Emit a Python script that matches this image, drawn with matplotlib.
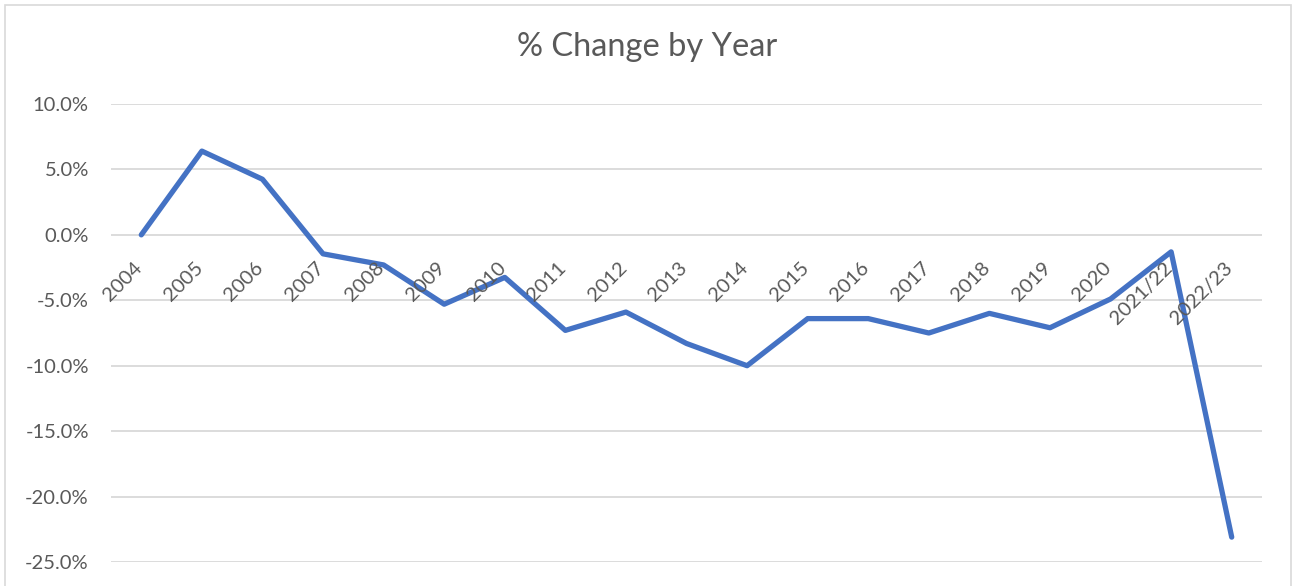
import matplotlib.pyplot as plt
from matplotlib.patches import Rectangle
from matplotlib.ticker import FuncFormatter, MultipleLocator

# data
years = ["2004", "2005", "2006", "2007", "2008", "2009", "2010", "2011", "2012",
         "2013", "2014", "2015", "2016", "2017", "2018", "2019", "2020",
         "2021/22", "2022/23"]
pct_change = [0.0, 6.4, 4.25, -1.45, -2.3, -5.3, -3.25, -7.3, -5.9,
              -8.3, -10.0, -6.4, -6.4, -7.5, -6.0, -7.1, -4.9,
              -1.3, -23.1]

txt_col = "#595959"
grid_col = "#D9D9D9"
line_col = "#4472C4"

plt.rcParams['font.family'] = ['Lato', 'DejaVu Sans']

W, H = 1293, 586
fig = plt.figure(figsize=(W / 100, H / 100), dpi=100)

# chart area border
fig.patches.append(Rectangle((5 / W, -0.05), (1291 - 5) / W, 1.05 - 5 / H,
                             transform=fig.transFigure, fill=False,
                             edgecolor=grid_col, linewidth=1.2))

ax = fig.add_axes([111 / W, (H - 562) / H, (1262 - 111) / W, (562 - 104) / H])

x = list(range(len(years)))
ax.plot(x, pct_change, color=line_col, linewidth=3.8,
        solid_capstyle='round', solid_joinstyle='round', zorder=3)

ax.set_xlim(-0.5, len(years) - 0.5)
ax.set_ylim(-25, 10)
ax.yaxis.set_major_locator(MultipleLocator(5))
ax.yaxis.set_major_formatter(FuncFormatter(lambda v, p: "{:.1f}%".format(v)))
ax.grid(axis='y', color=grid_col, linewidth=1.3)
ax.set_axisbelow(True)
for s in ax.spines.values():
    s.set_visible(False)
ax.tick_params(axis='y', length=0, pad=16, labelsize=14.5, labelcolor=txt_col)
ax.set_xticks([])

# category labels sit next to the zero line
for i, lab in enumerate(years):
    ax.annotate(lab, (i, 0), xytext=(1.5, -24.5), textcoords='offset points',
                rotation=45, rotation_mode='anchor', ha='right', va='baseline',
                fontsize=14.5, color=txt_col)

fig.text((517 + 777) / 2 / W, 1 - 47 / H, "% Change by Year", ha='center',
         va='center', fontsize=23.5, color=txt_col)

fig.savefig("out.png", dpi=100)
